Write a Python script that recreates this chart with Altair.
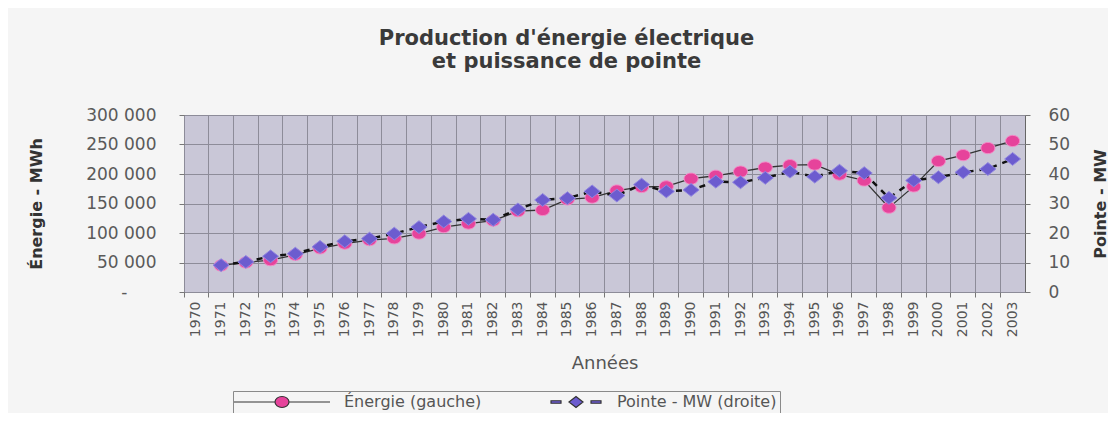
import altair as alt
import pandas as pd

years = [str(y) for y in range(1970, 2004)]
energie = [None, 45000, 50000, 54000, 63000, 74000, 82000, 88000, 91000, 99000,
           110000, 116000, 121000, 137000, 139000, 157000, 160000, 172000, 178000, 179000,
           192000, 197000, 204000, 211000, 215000, 216000, 199000, 189000, 143000, 179000,
           222000, 232000, 244000, 256000]
pointe = [None, 9.1, 10.2, 12.1, 13.0, 15.3, 17.2, 18.1, 19.8, 22.0,
          23.9, 24.8, 24.5, 28.0, 31.2, 31.8, 34.1, 32.7, 36.4, 34.1,
          34.6, 37.4, 37.2, 38.7, 40.8, 39.1, 41.1, 40.3, 31.9, 37.8,
          38.9, 40.6, 41.7, 45.1]
series = ["Énergie (gauche)", "Pointe - MW (droite)"]
left_ticks = [0, 50000, 100000, 150000, 200000, 250000, 300000]
right_ticks = [0, 10, 20, 30, 40, 50, 60]

assert len(years) == len(energie) == len(pointe)

df = pd.DataFrame({"annee": years, "energie": energie, "pointe": pointe})
leg_df = pd.DataFrame({"serie": series})

W, H = 841, 177
FONT = "DejaVu Sans"
GRID = "#8d8c99"
PINK = "#e6439b"
PURPLE = "#6c5ccf"

circle_path = "M-1,0A1,0.8 0 1,0 1,0A1,0.8 0 1,0 -1,0Z"
diamond_path = "M-1,0L0,-0.8L1,0L0,0.8Z"
energie_leg = "M-9.6,0H-1.4M1.4,0H9.6M-1.4,0A1.4,1.1 0 1,0 1.4,0A1.4,1.1 0 1,0 -1.4,0Z"
pointe_leg = ("M-0.8,-0.25H1.2V0.25H-0.8Z"
              "M2.8,0L4.2,-1.1L5.6,0L4.2,1.1Z"
              "M7.2,-0.25H9.2V0.25H7.2Z")

x_axis = alt.Axis(
    title="Années", bandPosition=0, labelAngle=270,
    labelFontSize=14, labelColor="#555555", labelPadding=4, labelOverlap=False,
    tickSize=5, tickColor="#777777", grid=True, gridColor=GRID, gridWidth=1,
    domain=False, titleFontSize=18, titleFontWeight="normal", titleColor="#555555",
    titleY=71, titleBaseline="middle",
)
x_enc = alt.X("annee:O", bandPosition=0.5,
              scale=alt.Scale(type="band", domain=years, paddingInner=0, paddingOuter=0),
              axis=x_axis)

left_axis = alt.Axis(
    values=left_ticks,
    labelExpr="datum.value == 0 ? '-' : replace(format(datum.value, ','), regexp(',', 'g'), ' ')",
    labelPadding={"condition": {"test": "datum.value == 0", "value": 52}, "value": 23},
    title="Énergie - MWh", titleX=-148, titleY=H / 2, titleAngle=270,
    titleAlign="center", titleBaseline="middle", titleFontSize=16,
    titleFontWeight="bold", titleColor="#333333",
    labelFontSize=17, labelColor="#5a5a5a",
    tickSize=5, tickColor="#777777", grid=True, gridColor=GRID, gridWidth=1, domain=False,
)
right_axis = alt.Axis(
    values=right_ticks, orient="right",
    title="Pointe - MW", titleX=75, titleY=H / 2, titleAngle=270,
    titleAlign="center", titleBaseline="middle", titleFontSize=16,
    titleFontWeight="bold", titleColor="#333333",
    labelFontSize=17, labelColor="#5a5a5a", labelPadding=18,
    tickSize=5, tickColor="#777777", grid=False, domain=False,
)

y_left = alt.Y("energie:Q", scale=alt.Scale(domain=[0, 300000]), axis=left_axis)
y_right = alt.Y("pointe:Q", scale=alt.Scale(domain=[0, 60]), axis=right_axis)

base = alt.Chart(df)

e_line = base.mark_line(color="#333333", strokeWidth=1.3).encode(x=x_enc, y=y_left)
e_pts = base.mark_point(shape=circle_path, filled=True, fill=PINK, stroke="#f48cc8",
                        strokeWidth=1, size=196, opacity=1).encode(x=x_enc, y=y_left)
p_line = base.mark_line(color="#111111", strokeWidth=2.5, strokeDash=[6, 6]).encode(x=x_enc, y=y_right)
p_pts = base.mark_point(shape=diamond_path, filled=True, fill=PURPLE, stroke="#9085e0",
                        strokeWidth=1, size=256, opacity=1).encode(x=x_enc, y=y_right)

legend = alt.Legend(
    title=None, orient="none", legendX=49, legendY=276, direction="horizontal",
    symbolSize=100, symbolOffset=38, labelOffset=54, labelFontSize=16, labelFont=FONT,
    labelColor="#555555", labelLimit=400, strokeColor="#8a8a8a", fillColor="#f5f5f5",
    padding=3, columnPadding=27, symbolStrokeColor="#333333", symbolStrokeWidth=1.2,
)
dummy = alt.Chart(leg_df).transform_filter("false").mark_point(
    filled=True, stroke="#333333", strokeWidth=1.2, opacity=1
).encode(
    color=alt.Color("serie:N", scale=alt.Scale(domain=series, range=[PINK, PURPLE]), legend=legend),
    shape=alt.Shape("serie:N", scale=alt.Scale(domain=series, range=[energie_leg, pointe_leg]), legend=legend),
)

left = alt.layer(e_line, e_pts)
right = alt.layer(p_line, p_pts)

chart = alt.layer(dummy, left, right).resolve_scale(y="independent").properties(
    width=W, height=H,
    autosize=alt.AutoSizeParams(type="none"),
    padding={"left": 176, "top": 107, "right": 83, "bottom": 121},
    background="#f5f5f5",
    title=alt.Title(
        ["Production d'énergie électrique", "et puissance de pointe"],
        font=FONT, fontSize=21, fontWeight="bold", color="#3a3a3a",
        anchor="middle", dx=-38, offset=34, lineHeight=23,
    ),
).configure_view(fill="#c9c7d7", stroke="#666666", strokeWidth=1).configure_axis(
    labelFont=FONT, titleFont=FONT
)

chart.save("out.html", embed_options={"renderer": "svg", "actions": False})
